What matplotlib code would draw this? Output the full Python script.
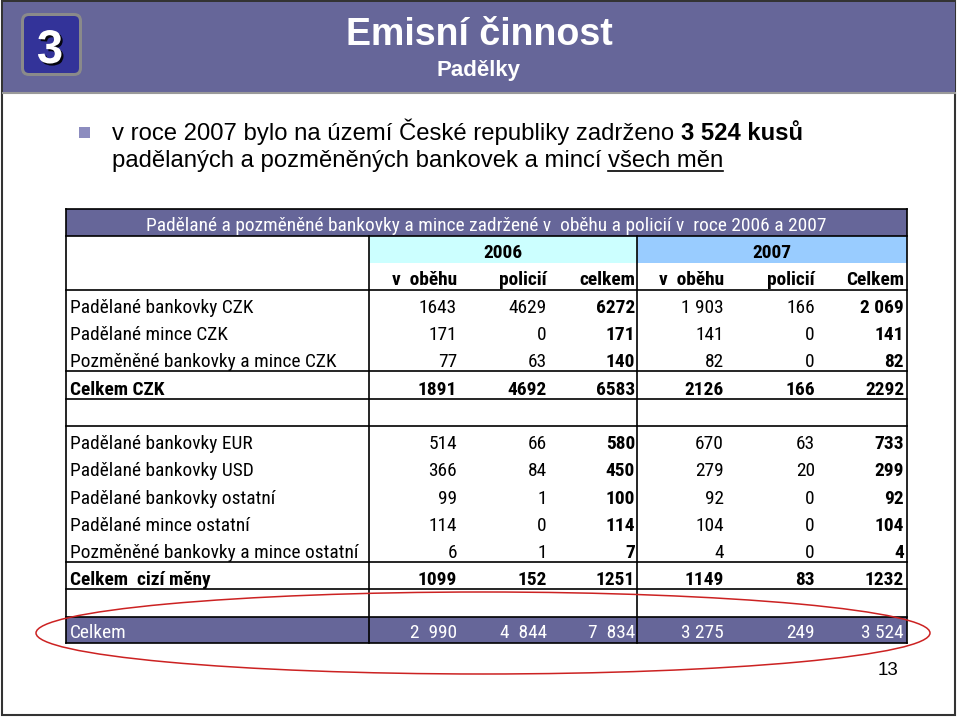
import matplotlib
matplotlib.use('Agg')
import matplotlib.pyplot as plt
import matplotlib.patheffects as pe
from matplotlib import font_manager
from matplotlib.patches import Rectangle, FancyBboxPatch, Ellipse

# slide texts
badge = '3'
title = 'Emisní činnost'
subtitle = 'Padělky'
bullet_1 = 'v roce 2007 bylo na území České republiky zadrženo '
bullet_1_bold = '3 524 kusů'
bullet_2 = 'padělaných a pozměněných bankovek a mincí '
bullet_2_under = 'všech měn'
page_number = '13'

# table data
table_title = 'Padělané a pozměněné bankovky a mince zadržené v  oběhu a policií v  roce 2006 a 2007'
years = ['2006', '2007']
subheads = ['v  oběhu', 'policií', 'celkem', 'v  oběhu', 'policií', 'Celkem']

czk_labels = ['Padělané bankovky CZK', 'Padělané mince CZK', 'Pozměněné bankovky a mince CZK']
czk_values = [['1643', '4629', '6272', '1 903', '166', '2 069'],
              ['171', '0', '171', '141', '0', '141'],
              ['77', '63', '140', '82', '0', '82']]
czk_total_label = 'Celkem CZK'
czk_total = ['1891', '4692', '6583', '2126', '166', '2292']

foreign_labels = ['Padělané bankovky EUR', 'Padělané bankovky USD', 'Padělané bankovky ostatní',
                  'Padělané mince ostatní', 'Pozměněné bankovky a mince ostatní']
foreign_values = [['514', '66', '580', '670', '63', '733'],
                  ['366', '84', '450', '279', '20', '299'],
                  ['99', '1', '100', '92', '0', '92'],
                  ['114', '0', '114', '104', '0', '104'],
                  ['6', '1', '7', '4', '0', '4']]
foreign_total_label = 'Celkem  cizí měny'
foreign_total = ['1099', '152', '1251', '1149', '83', '1232']

grand_label = 'Celkem'
grand_total = ['2  990', '4  844', '7  834', '3 275', '249', '3 524']

purple = '#666699'
main_font = 'Liberation Sans'

# narrow font for the table if one is installed
names = {f.name for f in font_manager.fontManager.ttflist}
cell_font = main_font
for cand in ['Liberation Sans Narrow', 'Arial Narrow', 'Roboto Condensed',
             'Noto Sans Condensed', 'DejaVu Sans Condensed', 'Open Sans Condensed']:
    if cand in names:
        cell_font = cand
        break

fig = plt.figure(figsize=(9.6, 7.18), dpi=100)
ax = fig.add_axes([0, 0, 1, 1])
ax.set_xlim(0, 960)
ax.set_ylim(718, 0)
ax.axis('off')
inv = ax.transData.inverted()

def width_px(t):
    fig.canvas.draw()
    bb = t.get_window_extent()
    return inv.transform((bb.x1, 0))[0] - inv.transform((bb.x0, 0))[0]

# fit table font so the longest label spans ~287 px like the slide
probe = ax.text(0, 0, foreign_labels[-1], fontsize=10, family=cell_font)
cell_size = min(10 * 287 / width_px(probe), 14.5)
probe.remove()

# slide frame and header band
ax.add_patch(Rectangle((2, 1), 953, 714, facecolor='white', edgecolor='#333333', lw=1.5, zorder=0))
ax.add_patch(Rectangle((3, 2), 952, 90, facecolor=purple, edgecolor='none', zorder=1))
ax.plot([3, 955], [93, 93], color='#9a9a9a', lw=1.5, zorder=1)

# badge
ax.add_patch(FancyBboxPatch((25, 17), 53, 55, boxstyle='round,pad=4,rounding_size=8',
                            facecolor='#8a8a8a', edgecolor='none', zorder=2))
ax.add_patch(FancyBboxPatch((27, 19), 49, 51, boxstyle='round,pad=3,rounding_size=5',
                            facecolor='#333399', edgecolor='none', zorder=3))
ax.text(50, 63, badge, color='white', fontsize=34, fontweight='bold', family=main_font,
        ha='center', va='baseline', zorder=5,
        path_effects=[pe.withSimplePatchShadow(offset=(1.5, -1.5), shadow_rgbFace='black', alpha=0.9)])

ax.text(479, 45, title, color='white', fontsize=27, fontweight='bold', family=main_font,
        ha='center', va='baseline')
ax.text(479, 76, subtitle, color='white', fontsize=16, fontweight='bold', family=main_font,
        ha='center', va='baseline')

# bullet text
bsize = 17.2
ax.add_patch(Rectangle((79, 127), 11, 11, facecolor='#8c8cbf', edgecolor='none'))
t1 = ax.text(112, 140, bullet_1, fontsize=bsize, family=main_font, va='baseline')
t2 = ax.text(112, 167, bullet_2, fontsize=bsize, family=main_font, va='baseline')
fig.canvas.draw()
x1 = inv.transform((t1.get_window_extent().x1, 0))[0]
x2 = inv.transform((t2.get_window_extent().x1, 0))[0]
ax.text(x1, 140, bullet_1_bold, fontsize=bsize, fontweight='bold', family=main_font, va='baseline')
t3 = ax.text(x2, 167, bullet_2_under, fontsize=bsize, family=main_font, va='baseline')
fig.canvas.draw()
x3 = inv.transform((t3.get_window_extent().x1, 0))[0]
ax.plot([x2, x3], [171, 171], color='black', lw=1.2)

# table geometry
left, right = 66, 907
col_label_end, col_mid = 369, 637
col_right = [457, 547, 635, 724, 815, 904]

ax.add_patch(Rectangle((left, 209), right - left, 27, facecolor=purple, edgecolor='none'))
ax.add_patch(Rectangle((col_label_end, 236), col_mid - col_label_end, 27, facecolor='#ccffff', edgecolor='none'))
ax.add_patch(Rectangle((col_mid, 236), right - col_mid, 27, facecolor='#99ccff', edgecolor='none'))
ax.add_patch(Rectangle((left, 617), right - left, 26, facecolor=purple, edgecolor='none'))

for y in [209, 236, 290, 371, 399, 426, 562, 589, 617, 643]:
    ax.plot([left, right], [y, y], color='black', lw=1.2, solid_capstyle='projecting')
ax.plot([left, left], [209, 643], color='black', lw=1.2)
ax.plot([right, right], [209, 643], color='black', lw=1.2)
for x in [col_label_end, col_mid]:
    ax.plot([x, x], [236, 643], color='black', lw=1.2)

def cell(x, y, s, ha='right', bold=False, color='black'):
    ax.text(x, y, s, ha=ha, va='baseline', fontsize=cell_size, family=cell_font,
            fontweight='bold' if bold else 'normal', color=color)

cell((left + right) / 2, 231, table_title, ha='center', color='white')
cell((col_label_end + col_mid) / 2, 258, years[0], ha='center', bold=True)
cell((col_mid + right) / 2, 258, years[1], ha='center', bold=True)
for j, s in enumerate(subheads):
    cell(col_right[j], 285, s, bold=True)

def data_row(bottom, label, vals, total=False):
    cell(70, bottom - 4, label, ha='left', bold=total)
    for j, v in enumerate(vals):
        cell(col_right[j], bottom - 4, v, bold=total or j in (2, 5))

for i, (lab, vals) in enumerate(zip(czk_labels, czk_values)):
    data_row(290 + 27 * (i + 1), lab, vals)
data_row(399, czk_total_label, czk_total, total=True)

h = (562 - 426) / len(foreign_labels)
for i, (lab, vals) in enumerate(zip(foreign_labels, foreign_values)):
    data_row(426 + h * (i + 1), lab, vals)
data_row(589, foreign_total_label, foreign_total, total=True)

cell(70, 638, grand_label, ha='left', color='white')
for j, v in enumerate(grand_total):
    cell(col_right[j], 638, v, color='white')

ax.add_patch(Ellipse((483, 633), 894, 82, facecolor='none', edgecolor='#cc2222', lw=1.1, zorder=6))

ax.text(898, 675, page_number, fontsize=13.5, family=main_font, ha='right', va='baseline')

fig.savefig('out.png', dpi=100)
